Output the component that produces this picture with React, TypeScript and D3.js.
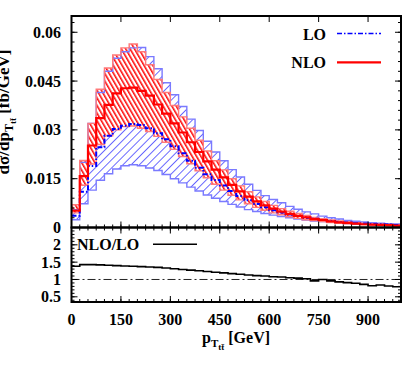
import React from "react";
import * as d3 from "d3";

// ---- data (40 bins of 25 GeV, 0-1000 GeV) ----
const binStart: number[] = d3.range(0, 1000, 25);
const xMax = 1000;

const loCentral = [0.0036, 0.0110, 0.0189, 0.0247, 0.0282, 0.0303, 0.0313, 0.0318, 0.0315, 0.0305,
  0.0290, 0.0271, 0.0250, 0.0228, 0.0205, 0.0184, 0.0164, 0.0146, 0.0129, 0.0112,
  0.0097, 0.0084, 0.0072, 0.0062, 0.0053, 0.0046, 0.0040, 0.0035, 0.0030, 0.0027,
  0.0023, 0.0020, 0.0017, 0.0015, 0.0013, 0.0012, 0.0011, 0.0010, 0.0009, 0.0008];
const loUpper = [0.0055, 0.0200, 0.0320, 0.0415, 0.0480, 0.0520, 0.0540, 0.0552, 0.0553, 0.0525,
  0.0488, 0.0445, 0.0408, 0.0372, 0.0333, 0.0298, 0.0265, 0.0232, 0.0205, 0.0178,
  0.0155, 0.0133, 0.0114, 0.0098, 0.0086, 0.0076, 0.0065, 0.0056, 0.0048, 0.0042,
  0.0035, 0.0030, 0.0026, 0.0022, 0.0019, 0.0017, 0.0015, 0.0013, 0.0012, 0.0011];
const loLower = [0.0024, 0.0073, 0.0115, 0.0145, 0.0165, 0.0180, 0.0190, 0.0193, 0.0190, 0.0183,
  0.0175, 0.0163, 0.0150, 0.0137, 0.0124, 0.0112, 0.0100, 0.0090, 0.0080, 0.0071,
  0.0063, 0.0055, 0.0049, 0.0043, 0.0038, 0.0034, 0.0030, 0.0026, 0.0023, 0.0020,
  0.0018, 0.0016, 0.0014, 0.0012, 0.0011, 0.0010, 0.0009, 0.0008, 0.0007, 0.0006];

const nloCentral = [0.0052, 0.0158, 0.0252, 0.0336, 0.0377, 0.0412, 0.0428, 0.0430, 0.0420, 0.0405,
  0.0378, 0.0350, 0.0320, 0.0292, 0.0262, 0.0232, 0.0203, 0.0178, 0.0154, 0.0131,
  0.0111, 0.0095, 0.0080, 0.0068, 0.0058, 0.0049, 0.0042, 0.0036, 0.0031, 0.0026,
  0.0023, 0.0019, 0.0016, 0.0014, 0.0012, 0.0010, 0.0009, 0.0008, 0.0007, 0.0006];
const nloUpper = [0.0070, 0.0206, 0.0320, 0.0425, 0.0490, 0.0530, 0.0552, 0.0564, 0.0540, 0.0500,
  0.0455, 0.0415, 0.0375, 0.0340, 0.0305, 0.0268, 0.0235, 0.0205, 0.0177, 0.0150,
  0.0128, 0.0110, 0.0094, 0.0080, 0.0068, 0.0058, 0.0050, 0.0043, 0.0037, 0.0031,
  0.0027, 0.0023, 0.0020, 0.0017, 0.0015, 0.0013, 0.0011, 0.0010, 0.0009, 0.0008];
const nloLower = [0.0045, 0.0130, 0.0195, 0.0255, 0.0282, 0.0300, 0.0310, 0.0312, 0.0305, 0.0295,
  0.0280, 0.0262, 0.0240, 0.0218, 0.0196, 0.0174, 0.0153, 0.0133, 0.0115, 0.0099,
  0.0085, 0.0073, 0.0062, 0.0053, 0.0045, 0.0039, 0.0033, 0.0028, 0.0024, 0.0021,
  0.0018, 0.0015, 0.0013, 0.0011, 0.0010, 0.0009, 0.0008, 0.0007, 0.0006, 0.0005];

const ratio = [1.38, 1.43, 1.43, 1.42, 1.41, 1.40, 1.39, 1.38, 1.37, 1.36,
  1.35, 1.33, 1.31, 1.29, 1.27, 1.25, 1.23, 1.21, 1.19, 1.17,
  1.15, 1.13, 1.11, 1.10, 1.08, 1.07, 1.05, 1.04, 1.02, 0.96,
  1.00, 0.96, 0.93, 0.91, 0.89, 0.86, 0.82, 0.84, 0.81, 0.79];

const xTicks = [0, 150, 300, 450, 600, 750, 900];
const yTicks = [0, 0.015, 0.03, 0.045, 0.06];
const yTickLabels = ["0", "0.015", "0.03", "0.045", "0.06"];
const rTicks = [0.5, 1, 1.5, 2];
const rTickLabels = ["0.5", "1", "1.5", "2"];

// ---- layout ----
const W = 407, H = 370;
const L = 71.5, R = 401, T = 16, MB = 227.5, RB = 302;
const FONT = "'Liberation Serif', 'Times New Roman', serif";

export default function App() {
  const x = d3.scaleLinear().domain([0, xMax]).range([L, R]);
  const y = d3.scaleLinear().domain([0, 0.065]).range([MB, T]);
  const yr = d3.scaleLinear().domain([0.35, 2.5]).range([RB, MB]);

  const ext = (arr: number[]) => [...binStart.map((b, i) => ({ x: b, v: arr[i] })), { x: xMax, v: arr[arr.length - 1] }];
  const extBand = (lo: number[], hi: number[]) =>
    [...binStart.map((b, i) => ({ x: b, lo: lo[i], hi: hi[i] })), { x: xMax, lo: lo[lo.length - 1], hi: hi[hi.length - 1] }];

  const area = d3.area<any>().x(d => x(d.x)).y0(d => y(d.lo)).y1(d => y(d.hi)).curve(d3.curveStepAfter);
  const line = d3.line<any>().x(d => x(d.x)).y(d => y(d.v)).curve(d3.curveStepAfter);
  const rline = d3.line<any>().x(d => x(d.x)).y(d => yr(d.v)).curve(d3.curveStepAfter);

  const loBand = area(extBand(loLower, loUpper)) || "";
  const nloBand = area(extBand(nloLower, nloUpper)) || "";

  const xMinor = d3.range(0, xMax + 1, 25);
  const yMinor = d3.range(0, 0.0651, 0.003);
  const rMinor = d3.range(0.4, 2.5, 0.1);

  const tk = [] as React.ReactNode[];
  yTicks.forEach((t, i) => {
    tk.push(<line key={"yl" + i} x1={L} x2={L + 6} y1={y(t)} y2={y(t)} />);
    tk.push(<line key={"yr" + i} x1={R} x2={R - 6} y1={y(t)} y2={y(t)} />);
  });
  yMinor.forEach((t, i) => {
    tk.push(<line key={"yml" + i} x1={L} x2={L + 3} y1={y(t)} y2={y(t)} />);
    tk.push(<line key={"ymr" + i} x1={R} x2={R - 3} y1={y(t)} y2={y(t)} />);
  });
  xTicks.forEach((t, i) => {
    tk.push(<line key={"xt" + i} x1={x(t)} x2={x(t)} y1={T} y2={T + 6} />);
    tk.push(<line key={"xb" + i} x1={x(t)} x2={x(t)} y1={MB} y2={MB - 6} />);
    tk.push(<line key={"rxt" + i} x1={x(t)} x2={x(t)} y1={MB} y2={MB + 6} />);
    tk.push(<line key={"rxb" + i} x1={x(t)} x2={x(t)} y1={RB} y2={RB - 6} />);
  });
  xMinor.forEach((t, i) => {
    tk.push(<line key={"xmb" + i} x1={x(t)} x2={x(t)} y1={MB} y2={MB - 3} />);
    tk.push(<line key={"rxmt" + i} x1={x(t)} x2={x(t)} y1={MB} y2={MB + 3} />);
    tk.push(<line key={"rxmb" + i} x1={x(t)} x2={x(t)} y1={RB} y2={RB - 3} />);
  });
  rTicks.forEach((t, i) => {
    tk.push(<line key={"rl" + i} x1={L} x2={L + 6} y1={yr(t)} y2={yr(t)} />);
    tk.push(<line key={"rr" + i} x1={R} x2={R - 6} y1={yr(t)} y2={yr(t)} />);
  });
  rMinor.forEach((t, i) => {
    tk.push(<line key={"rml" + i} x1={L} x2={L + 3} y1={yr(t)} y2={yr(t)} />);
    tk.push(<line key={"rmr" + i} x1={R} x2={R - 3} y1={yr(t)} y2={yr(t)} />);
  });

  return (
    <svg width={W} height={H} style={{ position: "absolute", left: 0, top: 0, background: "#fff" }}
      fontFamily={FONT} fontWeight="bold">
      <defs>
        <pattern id="hatchBlue" patternUnits="userSpaceOnUse" width="5.8" height="5.8" patternTransform="rotate(45)">
          <line x1="0" y1="0" x2="0" y2="5.8" stroke="#1a1aff" strokeWidth="1.3" />
        </pattern>
        <pattern id="hatchRed" patternUnits="userSpaceOnUse" width="3.8" height="3.8" patternTransform="rotate(-30)">
          <rect x="0" y="0" width="3.8" height="3.8" fill="#fff" />
          <line x1="0.8" y1="0" x2="0.8" y2="3.8" stroke="#ff0000" strokeWidth="1.5" />
        </pattern>
        <clipPath id="mainClip"><rect x={L} y={T} width={R - L} height={MB - T} /></clipPath>
        <clipPath id="ratioClip"><rect x={L} y={MB} width={R - L} height={RB - MB} /></clipPath>
      </defs>

      <g clipPath="url(#mainClip)">
        <path d={loBand} fill="url(#hatchBlue)" stroke="none" />
        <path d={nloBand} fill="url(#hatchRed)" stroke="none" />
        <path d={loBand} fill="none" stroke="#7a7aff" strokeWidth={1.4} />
        <path d={nloBand} fill="none" stroke="#ff7a7a" strokeWidth={1.4} />
        <path d={line(ext(loCentral)) || ""} fill="none" stroke="#0000ff" strokeWidth={2}
          strokeDasharray="5,2,1.5,2" />
        <path d={line(ext(nloCentral)) || ""} fill="none" stroke="#ff0000" strokeWidth={2.2} />
      </g>

      <g clipPath="url(#ratioClip)">
        <line x1={L} x2={R} y1={yr(1)} y2={yr(1)} stroke="#222" strokeWidth={1} strokeDasharray="8,3,2,3" />
        <path d={rline(ext(ratio)) || ""} fill="none" stroke="#000" strokeWidth={1.6} />
      </g>

      <rect x={L} y={T} width={R - L} height={MB - T} fill="none" stroke="#000" strokeWidth={2} />
      <rect x={L} y={MB} width={R - L} height={RB - MB} fill="none" stroke="#000" strokeWidth={2} />
      <g stroke="#000" strokeWidth={1}>{tk}</g>

      <g fontSize={16} fill="#000">
        {yTicks.map((t, i) => (
          <text key={"ylab" + i} x={61} y={y(t)} textAnchor="end" dominantBaseline="central">{yTickLabels[i]}</text>
        ))}
        {rTicks.map((t, i) => (
          <text key={"rlab" + i} x={61} y={yr(t)} textAnchor="end" dominantBaseline="central">{rTickLabels[i]}</text>
        ))}
        {xTicks.map((t, i) => (
          <text key={"xlab" + i} x={x(t)} y={325} textAnchor="middle">{t}</text>
        ))}
      </g>

      <text x={202} y={343} fontSize={16} fill="#000">
        p<tspan fontSize={11} dy={4}>T</tspan><tspan fontSize={9} dy={3}>tt̄</tspan><tspan fontSize={16} dy={-7}> [GeV]</tspan>
      </text>

      <text transform="translate(8.5,112) rotate(-90)" textAnchor="middle" fontSize={17} fill="#000">
        dσ/dp<tspan fontSize={12} dy={4}>T</tspan><tspan fontSize={9} dy={3}>tt̄</tspan><tspan fontSize={17} dy={-7}> [fb/GeV]</tspan>
      </text>

      <g fontSize={16} fill="#000">
        <text x={326} y={40} textAnchor="end">LO</text>
        <line x1={337} x2={381} y1={33.5} y2={33.5} stroke="#0000ff" strokeWidth={1.6} strokeDasharray="5,2,1.5,2" />
        <text x={326} y={68} textAnchor="end">NLO</text>
        <line x1={337} x2={381} y1={62.3} y2={62.3} stroke="#ff0000" strokeWidth={2.2} />
        <text x={77} y={250}>NLO/LO</text>
        <line x1={153} x2={197} y1={244.3} y2={244.3} stroke="#000" strokeWidth={1.6} />
      </g>
    </svg>
  );
}
